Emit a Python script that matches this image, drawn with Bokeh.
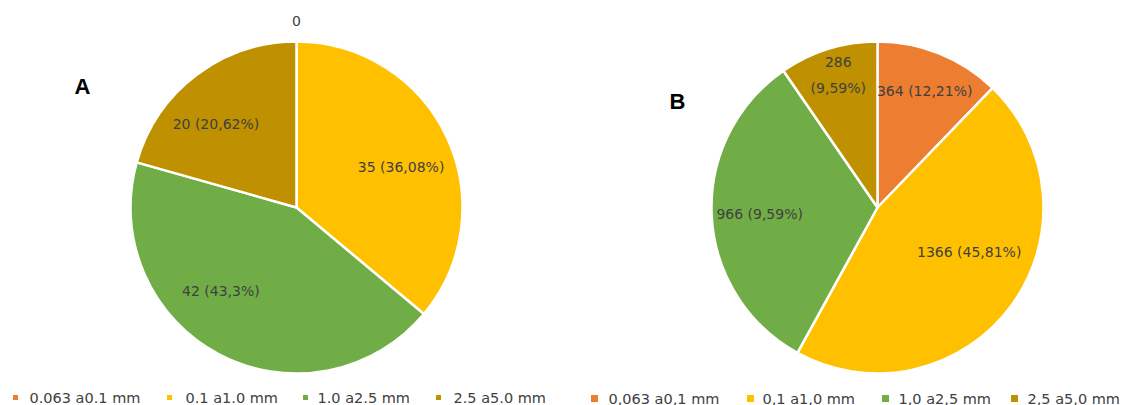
import math
from bokeh.plotting import figure
from bokeh.models import Range1d, ColumnDataSource
from bokeh.core.properties import value
from bokeh.embed import file_html
from bokeh.resources import INLINE

# ---- data -------------------------------------------------------------
classes_a = ["0.063 a0.1 mm", "0.1 a1.0 mm", "1.0 a2.5 mm", "2.5 a5.0 mm"]
classes_b = ["0,063 a0,1 mm", "0,1 a1,0 mm", "1,0 a2,5 mm", "2,5 a5,0 mm"]
counts_a = [0, 35, 42, 20]
counts_b = [364, 1366, 966, 286]
labels_a = ["0", "35 (36,08%)", "42 (43,3%)", "20 (20,62%)"]
labels_b = ["364 (12,21%)", "1366 (45,81%)", "966 (9,59%)", "286\n(9,59%)"]
colors = ["#ED7D31", "#FFC000", "#70AD47", "#BF9000"]

# ---- layout (pixels, y measured from the top) -------------------------
W, H = 1126, 405
R = 166
CENTER_A = (296, 207)
CENTER_B = (877, 207)
# label anchor: (angle from 12 o'clock clockwise in degrees, distance from centre)
LABEL_POS_A = [(0, 187), (69, 112), (222, 113), (316, 116)]
LABEL_POS_B = [(22, 126), (116, 102), (267, 118), (343.5, 138)]
LEGEND_A = dict(sq=[15, 169, 305, 438], tx=[29, 185, 317, 453], y=397, size=5, font="14.5px")
LEGEND_B = dict(sq=[594, 750, 885, 1014], tx=[608, 762, 898, 1027], y=398, size=7, font="14.5px")

FONT = "DejaVu Sans"
TEXT_COLOR = "#404040"

p = figure(width=W, height=H, x_range=Range1d(0, W), y_range=Range1d(H, 0),
           output_backend="svg", toolbar_location=None, min_border=0)
p.axis.visible = False
p.grid.visible = False
p.outline_line_color = None
p.background_fill_color = "white"
p.border_fill_color = "white"


def draw_pie(center, counts, colors, labels, label_pos):
    total = float(sum(counts))
    cum = 0.0
    starts, ends = [], []
    for c in counts:
        # slices run clockwise from 12 o'clock
        starts.append(math.pi / 2 - 2 * math.pi * cum / total)
        cum += c
        ends.append(math.pi / 2 - 2 * math.pi * cum / total)
    src = ColumnDataSource(dict(x=[center[0]] * len(counts), y=[center[1]] * len(counts),
                                start=starts, end=ends, color=colors))
    p.wedge(x="x", y="y", radius=R, start_angle="start", end_angle="end",
            direction="clock", fill_color="color", line_color="white",
            line_width=2.5, source=src)
    for text, (ang, dist) in zip(labels, label_pos):
        a = math.radians(ang)
        lx = center[0] + dist * math.sin(a)
        ly = center[1] - dist * math.cos(a)
        p.text(x=[lx], y=[ly], text=[text], text_font=value(FONT),
               text_font_size="14px", text_color=TEXT_COLOR,
               text_align="center", text_baseline="middle", text_line_height=1.65)


def draw_legend(names, colors, spec):
    for name, col, sx, tx in zip(names, colors, spec["sq"], spec["tx"]):
        p.rect(x=[sx], y=[spec["y"]], width=spec["size"], height=spec["size"],
               fill_color=col, line_color=None)
        p.text(x=[tx], y=[spec["y"]], text=[name], text_font=value(FONT),
               text_font_size=spec["font"], text_color=TEXT_COLOR,
               text_align="left", text_baseline="middle")


draw_pie(CENTER_A, counts_a, colors, labels_a, LABEL_POS_A)
draw_pie(CENTER_B, counts_b, colors, labels_b, LABEL_POS_B)
draw_legend(classes_a, colors, LEGEND_A)
draw_legend(classes_b, colors, LEGEND_B)

# panel letters
p.text(x=[82], y=[86], text=["A"], text_font=value("Liberation Sans"),
       text_font_size="22px", text_font_style="bold", text_color="black",
       text_align="center", text_baseline="middle")
p.text(x=[677], y=[101], text=["B"], text_font=value("Liberation Sans"),
       text_font_size="22px", text_font_style="bold", text_color="black",
       text_align="center", text_baseline="middle")

open("out.html", "w").write(file_html(p, INLINE))
